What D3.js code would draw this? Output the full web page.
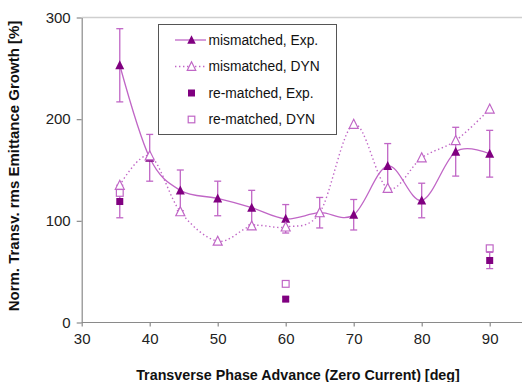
<!DOCTYPE html>
<html>
<head>
<meta charset="utf-8">
<script src="https://cdn.jsdelivr.net/npm/d3@7"></script>
<style>
  html, body { margin: 0; padding: 0; background: #fff; }
  svg { display: block; font-family: Arial, "Liberation Sans", sans-serif; }
</style>
</head>
<body>
<svg id="chart" width="522" height="382"></svg>
<script>
// Phase advance settings [deg]
const phaseMismatched = [35.6, 40, 44.5, 50, 55, 60, 65, 70, 75, 80, 85, 90];
// Mismatched beam: measured growth, its error, and DYNAMION simulation [%]
const mismatchedExp    = [253, 162, 130, 122, 113, 102, 108, 106, 154, 120, 168, 166];
const mismatchedExpErr = [36, 23, 20, 17, 17, 14, 15, 15, 22, 17, 24, 23];
const mismatchedDyn    = [135, 164, 109, 80, 95, 94, 108, 195, 132, 162, 179, 210];

// Re-matched beam
const phaseRematched   = [35.6, 60, 90];
const rematchedExp     = [119, 23, 61];
const rematchedExpErr  = [16, 2, 8];
const rematchedDyn     = [127.5, 38, 73];

const xTicks = [30, 40, 50, 60, 70, 80, 90];
const yTicks = [0, 100, 200, 300];

const seriesNames = ["mismatched, Exp.", "mismatched, DYN", "re-matched, Exp.", "re-matched, DYN"];

const dark = "#800080";
const light = "#c066c6";
const axisGrey = "#8a8a8a";

const svg = d3.select("#chart");

const x = d3.scaleLinear().domain([30, 95]).range([81.7, 523.7]);
const y = d3.scaleLinear().domain([0, 300]).range([322.5, 17.5]);

// Frame: top border of the plot area
svg.append("line")
  .attr("x1", x(30)).attr("x2", 522)
  .attr("y1", y(300)).attr("y2", y(300))
  .attr("stroke", "#cfcfcf").attr("stroke-width", 1.5);

// Axes
const yAxis = d3.axisLeft(y).tickValues(yTicks).tickSizeInner(5).tickSizeOuter(0).tickPadding(6);
const gy = svg.append("g").attr("transform", `translate(${x(30)},0)`).call(yAxis);
const xAxis = d3.axisBottom(x).tickValues(xTicks).tickSizeInner(4).tickSizeOuter(0).tickPadding(7);
const gx = svg.append("g").attr("transform", `translate(0,${y(0)})`).call(xAxis);
gx.select(".domain").remove();
svg.append("line")
  .attr("x1", x(30)).attr("x2", 522)
  .attr("y1", y(0)).attr("y2", y(0))
  .attr("stroke", axisGrey).attr("stroke-width", 1.2);

[gx, gy].forEach(g => {
  g.selectAll(".domain").attr("stroke", axisGrey).attr("stroke-width", 1.2);
  g.selectAll(".tick line").attr("stroke", axisGrey).attr("stroke-width", 1.2);
  g.selectAll(".tick text").attr("fill", "#222").style("font-size", "15px").style("font-family", "Arial, 'Liberation Sans', sans-serif");
});

// Axis titles
svg.append("text")
  .attr("x", 298).attr("y", 380)
  .attr("text-anchor", "middle")
  .style("font-size", "14.3px").style("font-weight", "bold").attr("fill", "#111")
  .text("Transverse Phase Advance (Zero Current) [deg]");
svg.append("text")
  .attr("transform", "translate(19,166) rotate(-90)")
  .attr("text-anchor", "middle")
  .style("font-size", "15px").style("font-weight", "bold").attr("fill", "#111")
  .text("Norm. Transv. rms Emittance Growth [%]");

// Marker shapes
const triPath = (s) => `M0,${-s * 0.55}L${s * 0.5},${s * 0.45}L${-s * 0.5},${s * 0.45}Z`;

const mis = phaseMismatched.map((p, i) => ({ p, exp: mismatchedExp[i], err: mismatchedExpErr[i], dyn: mismatchedDyn[i] }));
const rem = phaseRematched.map((p, i) => ({ p, exp: rematchedExp[i], err: rematchedExpErr[i], dyn: rematchedDyn[i] }));

const curve = d3.curveCatmullRom.alpha(0);

// Simulation line (dotted, smoothed)
svg.append("path")
  .datum(mis)
  .attr("fill", "none").attr("stroke", light).attr("stroke-width", 1.4)
  .attr("stroke-dasharray", "1.4,2.6")
  .attr("d", d3.line().x(d => x(d.p)).y(d => y(d.dyn)).curve(curve));

// Measurement line (solid, smoothed)
svg.append("path")
  .datum(mis)
  .attr("fill", "none").attr("stroke", light).attr("stroke-width", 1.3)
  .attr("d", d3.line().x(d => x(d.p)).y(d => y(d.exp)).curve(curve));

// Error bars
function errorBars(data) {
  const g = svg.append("g").attr("stroke", light).attr("stroke-width", 1.3).attr("fill", "none");
  data.forEach(d => {
    const cx = x(d.p), y1 = y(d.exp + d.err), y2 = y(d.exp - d.err);
    g.append("line").attr("x1", cx).attr("x2", cx).attr("y1", y1).attr("y2", y2);
    g.append("line").attr("x1", cx - 3.5).attr("x2", cx + 3.5).attr("y1", y1).attr("y2", y1);
    g.append("line").attr("x1", cx - 3.5).attr("x2", cx + 3.5).attr("y1", y2).attr("y2", y2);
  });
}
errorBars(mis);
errorBars(rem);

// Measured markers: filled triangles
svg.append("g").selectAll("path").data(mis).join("path")
  .attr("transform", d => `translate(${x(d.p)},${y(d.exp)})`)
  .attr("d", triPath(9)).attr("fill", dark);

// Simulated markers: open triangles
svg.append("g").selectAll("path").data(mis).join("path")
  .attr("transform", d => `translate(${x(d.p)},${y(d.dyn)})`)
  .attr("d", triPath(9)).attr("fill", "#fff").attr("stroke", light).attr("stroke-width", 1.2);

// Re-matched markers: squares
svg.append("g").selectAll("rect").data(rem).join("rect")
  .attr("x", d => x(d.p) - 3.5).attr("y", d => y(d.exp) - 3.5)
  .attr("width", 7).attr("height", 7).attr("fill", dark);
svg.append("g").selectAll("rect").data(rem).join("rect")
  .attr("x", d => x(d.p) - 3.4).attr("y", d => y(d.dyn) - 3.4)
  .attr("width", 6.8).attr("height", 6.8).attr("fill", "#fff").attr("stroke", light).attr("stroke-width", 1.2);

// Legend
const lg = svg.append("g");
lg.append("rect")
  .attr("x", 158.5).attr("y", 24.5).attr("width", 178).attr("height", 110)
  .attr("fill", "#fff").attr("stroke", "#555").attr("stroke-width", 1);
const rows = [40, 66.5, 93, 119.5];
const sx = 191.5;
// row 1: solid line + filled triangle
lg.append("line").attr("x1", 175).attr("x2", 206).attr("y1", rows[0]).attr("y2", rows[0])
  .attr("stroke", light).attr("stroke-width", 1.3);
lg.append("path").attr("transform", `translate(${sx},${rows[0]})`).attr("d", triPath(8.5)).attr("fill", dark);
// row 2: dotted line + open triangle
lg.append("line").attr("x1", 175).attr("x2", 206).attr("y1", rows[1]).attr("y2", rows[1])
  .attr("stroke", light).attr("stroke-width", 1.4).attr("stroke-dasharray", "1.4,2.6");
lg.append("path").attr("transform", `translate(${sx},${rows[1]})`).attr("d", triPath(8.5))
  .attr("fill", "#fff").attr("stroke", light).attr("stroke-width", 1.2);
// rows 3-4: squares
lg.append("rect").attr("x", sx - 3.5).attr("y", rows[2] - 3.5).attr("width", 7).attr("height", 7).attr("fill", dark);
lg.append("rect").attr("x", sx - 3.3).attr("y", rows[3] - 3.3).attr("width", 6.6).attr("height", 6.6)
  .attr("fill", "#fff").attr("stroke", light).attr("stroke-width", 1.2);
lg.selectAll("text.lbl").data(seriesNames).join("text")
  .attr("class", "lbl")
  .attr("x", 208.5).attr("y", (d, i) => rows[i])
  .attr("dy", "0.36em")
  .style("font-size", "13.8px").attr("fill", "#111")
  .text(d => d);
</script>
</body>
</html>
